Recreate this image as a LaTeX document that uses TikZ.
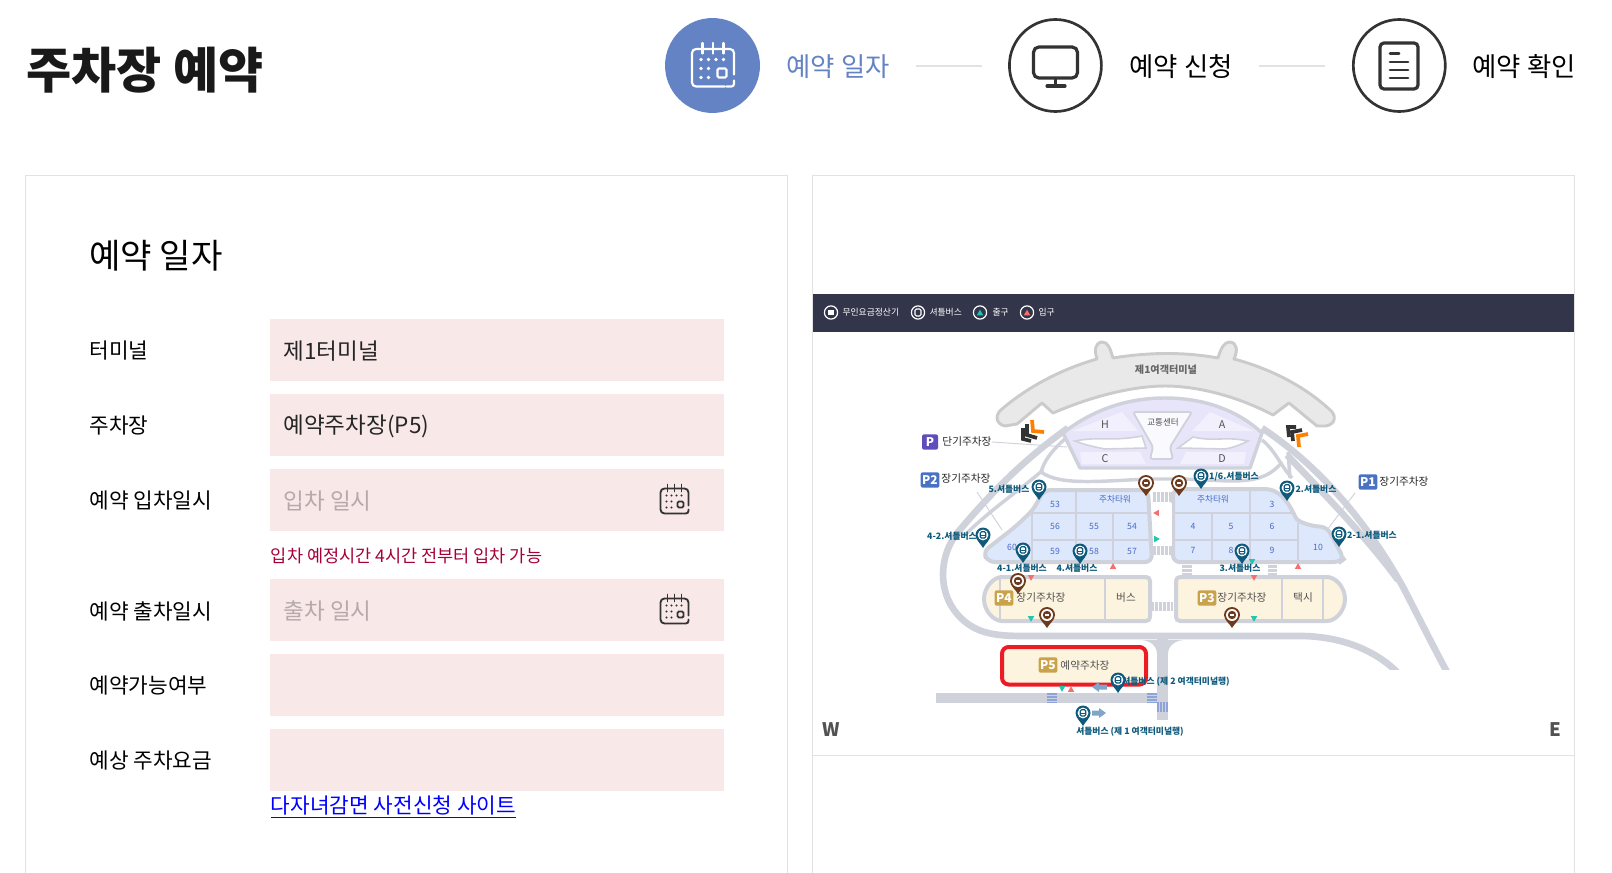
\documentclass[tikz,border=0pt]{standalone}
\usepackage{fontspec}
\setmainfont{Noto Sans CJK KR}
\definecolor{stepblue}{HTML}{6383C4}
\definecolor{inkdark}{HTML}{333333}
\definecolor{panelline}{HTML}{E2E2E2}
\definecolor{fieldpink}{HTML}{F8E8E8}
\definecolor{ghostgray}{HTML}{B5A9A9}
\definecolor{hintred}{HTML}{A5003A}
\definecolor{bandnavy}{HTML}{33364A}
\definecolor{roadgray}{HTML}{CFD2DA}
\definecolor{termgray}{HTML}{E9E9E9}
\definecolor{termline}{HTML}{CBCBCB}
\definecolor{violetzone}{HTML}{E8E5FB}
\definecolor{violetlight}{HTML}{F2F0FD}
\definecolor{blockblue}{HTML}{DDE8FD}
\definecolor{blockcream}{HTML}{FDF4DF}
\definecolor{celltext}{HTML}{4A6AC6}
\definecolor{gold}{HTML}{C9A24A}
\definecolor{pinblue}{HTML}{0F5A7C}
\definecolor{pinbrown}{HTML}{6E3A1E}
\definecolor{exitteal}{HTML}{22C5AE}
\definecolor{enterred}{HTML}{F66F6F}
\definecolor{arrowblue}{HTML}{7FA5C9}
\definecolor{stripeblue}{HTML}{8EA3D8}
\definecolor{badgeviolet}{HTML}{5E4DBB}
\definecolor{badgeblue}{HTML}{4A72C4}
\definecolor{mapred}{HTML}{ED1C24}
\tikzset{every picture/.style={line width=0.75pt},
  steptext/.style={anchor=west,inner sep=0pt,font=\fontsize{19.8}{24}\selectfont},
  stepring/.style={circle,draw=inkdark,line width=2pt,minimum size=69pt,inner sep=0pt},
  formlabel/.style={anchor=west,inner sep=0pt,text=black,font=\fontsize{16}{20}\selectfont},
  fieldbox/.style={anchor=north west,fill=fieldpink,minimum width=340.6pt,minimum height=46.2pt,inner sep=0pt},
  fieldtext/.style={anchor=west,inner sep=0pt,font=\fontsize{16.9}{20}\selectfont},
  bandtext/.style={anchor=west,inner sep=0pt,text=white,font=\fontsize{6.6}{8}\selectfont},
  celllabel/.style={inner sep=0pt,text=celltext,font=\fontsize{6.5}{8}\selectfont},
  graylabel/.style={inner sep=0pt,text=inkdark!85,font=\fontsize{8}{10}\selectfont},
  buslabel/.style={inner sep=0pt,text=pinblue,font=\fontsize{6.6}{8}\bfseries\selectfont},
  badge/.style={inner sep=0pt,rounded corners=1.5pt,text=white,font=\fontsize{9}{10}\bfseries\selectfont,minimum height=11.5pt,minimum width=14pt},
  road/.style={draw=roadgray,line width=5pt},
  thinroad/.style={draw=roadgray,line width=2.6pt},
  blockline/.style={draw=roadgray,line width=3pt},
  cellline/.style={draw=roadgray,line width=2.2pt},
  leader/.style={draw=roadgray,line width=0.7pt},
  stripes/.style={draw=roadgray,dash pattern=on 2pt off 1pt},
  bluestripes/.style={draw=stripeblue,dash pattern=on 1.3pt off 1pt},
  calicon/.pic={
    \draw [pic actions,line cap=round,rounded corners=3] (14,-6) -- (14,11) -- (-14,11) -- (-14,-14) -- (8,-14);
    \draw [pic actions,line cap=round,rounded corners=2] (9,-14) -- (14,-14) -- (14,-10);
    \draw [pic actions,line cap=round] (-7,15) -- (-7,8) (0,15) -- (0,8) (7,15) -- (7,8);
    \draw [pic actions,rounded corners=1] (3,-2) rectangle (9,-8);
    \fill [pic actions] (-8,4) circle [radius=1.2] (-3,4) circle [radius=1.2] (2,4) circle [radius=1.2] (7,4) circle [radius=1.2]
      (-8,-2) circle [radius=1.2] (-3,-2) circle [radius=1.2] (-8,-8) circle [radius=1.2] (-3,-8) circle [radius=1.2];
  },
  pinbus/.pic={
    \fill [pinblue] (0,-13) .. controls (-2,-9) and (-7.5,-5) .. (-7.5,0) arc [start angle=180,end angle=0,radius=7.5] .. controls (7.5,-5) and (2,-9) .. (0,-13) -- cycle;
    \fill [white] (0,0) circle [radius=5.4];
    \draw [pinblue,line width=0.9pt,rounded corners=1] (-2.8,3.2) rectangle (2.8,-3);
    \draw [pinblue,line width=0.8pt] (-2.8,-0.6) -- (2.8,-0.6);
  },
  pinfare/.pic={
    \fill [pinbrown] (0,-13) .. controls (-2,-9) and (-8,-5) .. (-8,0) arc [start angle=180,end angle=0,radius=8] .. controls (8,-5) and (2,-9) .. (0,-13) -- cycle;
    \fill [white] (0,0) circle [radius=6];
    \fill [pinbrown] (0,0) circle [radius=4.2];
    \fill [white] (-2.4,-0.8) rectangle (2.4,0.8);
  },
  trimark/.pic={
    \fill [pic actions] (-3.2,2.8) -- (3.2,2.8) -- (0,-2.8) -- cycle;
  },
  bandring/.pic={
    \draw [white,line width=0.9pt] (0,0) circle [radius=6.6];
  }
}
\begin{document}
\begin{tikzpicture}[x=0.75pt,y=0.75pt,yscale=-1,xscale=1]
\useasboundingbox (0,0) rectangle (1612,873);

% Page title
\node (title) [anchor=west,inner sep=0pt,text=black!90,font=\fontsize{36.8}{40}\bfseries\selectfont] at (26,70) {주차장 예약};

% Step circles
\node (stepdate) [circle,fill=stepblue,minimum size=71.2pt,inner sep=0pt] at (712.5,65.5) {};
\node (stepapply) [stepring] at (1055.4,65.5) {};
\node (stepcheck) [stepring] at (1399.3,65.5) {};
\pic [white,line width=1.6pt,scale=1.5] at (713,65.5) {calicon};
% Monitor icon
\draw [inkdark,line width=2.4pt,rounded corners=4] (1033.5,47) rectangle (1077.5,78);
\draw [inkdark,line width=2.4pt] (1055.5,78) -- (1055.5,85);
\draw [inkdark,line width=2.4pt,line cap=round] (1047,86) -- (1065,86);
% Document icon
\draw [inkdark,line width=2.4pt,rounded corners=3] (1380,43) rectangle (1418,89);
\draw [inkdark,line width=2.2pt,line cap=round] (1390,53.5) -- (1399,53.5) (1390,62) -- (1408,62) (1390,70) -- (1408,70) (1390,78) -- (1408,78);

% Step captions
\node (captiondate) [steptext,text=stepblue] at (786,67) {예약 일자};
\node (captionapply) [steptext,text=black] at (1129,67) {예약 신청};
\node (captioncheck) [steptext,text=black] at (1472,67) {예약 확인};
\coordinate (linedatea) at (916,66);
\coordinate (linedateb) at (982,66);
\coordinate (lineapplya) at (1259,66);
\coordinate (lineapplyb) at (1325,66);
\draw [draw=panelline,line width=1pt] (linedatea) -- (linedateb);
\draw [draw=panelline,line width=1pt] (lineapplya) -- (lineapplyb);

% Panels
\draw [draw=panelline,line width=0.75pt] (25.5,873) -- (25.5,176) -- (787.5,176) -- (787.5,873);
\draw [draw=panelline,line width=0.75pt] (812.5,873) -- (812.5,176) -- (1574,176) -- (1574,873);
\draw [draw=panelline,line width=0.75pt] (813,755.5) -- (1574,755.5);

% Form heading
\node (formhead) [anchor=west,inner sep=0pt,text=black,font=\fontsize{25.6}{30}\selectfont] at (89,256) {예약 일자};

% Form labels
\node (labelterminal) [formlabel] at (89,351) {터미널};
\node (labellot) [formlabel] at (89,426) {주차장};
\node (labelin) [formlabel] at (89,501) {예약 입차일시};
\node (labelout) [formlabel] at (89,611) {예약 출차일시};
\node (labelavail) [formlabel] at (89,686) {예약가능여부};
\node (labelfee) [formlabel] at (89,761) {예상 주차요금};

% Form fields
\node (fieldterminal) [fieldbox] at (269.8,318.8) {};
\node (fieldlot) [fieldbox] at (269.8,393.8) {};
\node (fieldin) [fieldbox] at (269.8,468.8) {};
\node (fieldout) [fieldbox] at (269.8,578.8) {};
\node (fieldavail) [fieldbox] at (269.8,653.8) {};
\node (fieldfee) [fieldbox] at (269.8,728.8) {};
\node (valueterminal) [fieldtext,text=black!85] at (283,351) {제1터미널};
\node (valuelot) [fieldtext,text=black!85] at (283,426) {예약주차장(P5)};
\node (valuein) [fieldtext,text=ghostgray] at (283,501) {입차 일시};
\node (valueout) [fieldtext,text=ghostgray] at (283,611) {출차 일시};
\pic [inkdark,line width=1.4pt] at (674.5,499.5) {calicon};
\pic [inkdark,line width=1.4pt] at (674.5,609.5) {calicon};
\node (hintin) [anchor=west,inner sep=0pt,text=hintred,font=\fontsize{13.15}{16}\selectfont] at (270.4,555.5) {입차 예정시간 4시간 전부터 입차 가능};
\node (sitelink) [anchor=west,inner sep=0pt,text=blue,font=\fontsize{16}{20}\selectfont] at (270.4,807) {\underline{다자녀감면 사전신청 사이트}};

% Map legend band
\fill [bandnavy] (813,294) rectangle (1574,332.5);
\pic at (831,312.5) {bandring};
\fill [white] (828,310) rectangle (834,315);
\node (legendfare) [bandtext] at (842,312) {무인요금정산기};
\pic at (918,312.5) {bandring};
\draw [white,line width=0.8pt,rounded corners=1] (915,309) rectangle (921,316);
\node (legendbus) [bandtext] at (929,312) {셔틀버스};
\pic at (980,312.5) {bandring};
\pic [exitteal,rotate=180] at (980,312.5) {trimark};
\node (legendexit) [bandtext] at (992,312) {출구};
\pic at (1027,312.5) {bandring};
\pic [enterred,rotate=180] at (1027,312.5) {trimark};
\node (legendenter) [bandtext] at (1038,312) {입구};

% Roads
\begin{scope}
\clip (813,333) rectangle (1574,669);
\draw [road] (1068,428) .. controls (1020,462) and (985,500) .. (958,532) .. controls (938,556) and (935,600) .. (968,624) .. controls (985,636) and (1005,636) .. (1030,636) -- (1300,636) .. controls (1340,636) and (1375,650) .. (1397,672);
\draw [road] (1262,428) .. controls (1310,460) and (1360,510) .. (1403,587) .. controls (1420,620) and (1435,650) .. (1447,672);
\draw [road] (1287,455) .. controls (1320,490) and (1365,535) .. (1398,580);
\draw [thinroad] (1043,470) .. controls (1020,490) and (990,510) .. (965,535);
\draw [thinroad] (1066,438) .. controls (1050,452) and (1044,462) .. (1041,472) .. controls (1060,486) and (1100,481) .. (1150,479) -- (1180,479) .. controls (1230,480) and (1262,488) .. (1282,462);
\draw [thinroad] (1262,440) .. controls (1275,450) and (1280,465) .. (1292,478);
\draw [thinroad] (1288,452) -- (1290,478);
\end{scope}
\draw [road,line width=8pt] (1162.5,638) -- (1162.5,720);
\fill [roadgray] (1140,640) .. controls (1150,640) and (1157,646) .. (1157,654) -- (1168,654) .. controls (1168,646) and (1175,640) .. (1185,640) -- cycle;
\fill [roadgray] (936,693) rectangle (1157,703);

% Terminal building
\draw [fill=termgray,draw=termline,line width=2.2pt,line join=round] (1005,426) .. controls (995,424) and (995,414) .. (1002,409) .. controls (1030,385) and (1065,368) .. (1097,359) .. controls (1094,350) and (1095,343) .. (1102,342) .. controls (1108,342) and (1110,348) .. (1113,358) .. controls (1150,352) and (1185,352) .. (1218,358) .. controls (1221,348) and (1224,342) .. (1230,342) .. controls (1237,343) and (1238,350) .. (1234,359) .. controls (1268,368) and (1303,385) .. (1329,409) .. controls (1337,415) and (1336,424) .. (1326,426) -- (1317,426) -- (1289,403) -- (1273,415) .. controls (1235,395) and (1195,386) .. (1165,386) .. controls (1135,386) and (1095,395) .. (1053,413) -- (1042,403) -- (1017,424) -- cycle;
\node (terminalname) [graylabel,font=\fontsize{7.6}{9}\bfseries\selectfont,text=inkdark!75] at (1166,370) {제1여객터미널};

% Concourse
\draw [fill=violetzone,draw=roadgray,line width=2.6pt,line join=round] (1063,433) .. controls (1095,408) and (1130,398) .. (1165,398) .. controls (1200,398) and (1235,408) .. (1262,433) -- (1250,468) -- (1080,468) -- cycle;
\fill [violetlight] (1072,431) -- (1122,412) -- (1138,431) -- cycle;
\fill [violetlight] (1192,431) -- (1210,412) -- (1254,431) -- cycle;
\fill [violetlight] (1080,452) -- (1140,452) -- (1146,464) -- (1082,464) -- cycle;
\fill [violetlight] (1186,452) -- (1246,452) -- (1244,464) -- (1180,464) -- cycle;
\draw [fill=white,draw=roadgray,line width=1.2pt] (1075,441) .. controls (1100,436) and (1110,442) .. (1142,436) -- (1146,448) -- (1105,449) .. controls (1095,447) and (1085,445) .. (1075,441) -- cycle;
\draw [fill=white,draw=roadgray,line width=1.2pt] (1248,441) .. controls (1225,436) and (1215,442) .. (1193,437) -- (1178,448) -- (1225,449) .. controls (1235,447) and (1240,445) .. (1248,441) -- cycle;
\draw [fill=white!60!violetlight,draw=roadgray,line width=1.4pt,rounded corners=2] (1133,412) -- (1192,412) -- (1170,447) -- (1173,459) -- (1150,459) -- (1153,447) -- cycle;
\node (gatehall) [graylabel,font=\fontsize{6.4}{8}\selectfont] at (1163,422) {교통센터};
\node (gateh) [graylabel] at (1105,425) {H};
\node (gatec) [graylabel] at (1105,459) {C};
\node (gatea) [graylabel] at (1222,425) {A};
\node (gated) [graylabel] at (1222,459) {D};

% Chevrons
\draw [black!80,line width=2.8pt,miter limit=4] (1023,428) -- (1023,439) -- (1031,441);
\draw [black!80,line width=2.8pt] (1027,424) -- (1027,435) -- (1037,438);
\draw [orange,line width=2.8pt] (1032,420) -- (1033,431) -- (1044,432);
\draw [black!80,line width=2.8pt] (1296,427) -- (1288,427) -- (1289,437);
\draw [black!80,line width=2.8pt] (1302,430) -- (1292,432) -- (1293,441);
\draw [orange,line width=2.8pt] (1308,434) -- (1298,436) -- (1299,447);

% Block P2 side
\draw [fill=blockblue,blockline,rounded corners=5] (1044,490) -- (1148,490) -- (1152,562) -- (988,562) -- (983,552) -- (1015,527) -- (1033,510) -- cycle;
\draw [cellline] (1076,490) -- (1076,562) (1113,513) -- (1113,562) (1032,513) -- (1032,562) (1032,513) -- (1150,513) (1032,540) -- (1150,540);
% Block P1 side
\draw [fill=blockblue,blockline,rounded corners=5] (1173,489) -- (1258,489) .. controls (1278,489) and (1286,500) .. (1293,512) .. controls (1298,522) and (1310,526) .. (1327,527) -- (1344,559) -- (1340,562) -- (1173,562) -- cycle;
\draw [cellline] (1250,489) -- (1250,562) (1212,513) -- (1212,562) (1298,523) -- (1298,562) (1173,513) -- (1292,513) (1173,540) -- (1298,540);

% Cell texts
\node (cell53) [celllabel] at (1055,504) {53};
\node (towerleft) [celllabel] at (1115,499) {주차타워};
\node (cell56) [celllabel] at (1055,526) {56};
\node (cell55) [celllabel] at (1094,526) {55};
\node (cell54) [celllabel] at (1132,526) {54};
\node (cell60) [celllabel] at (1012,547) {60};
\node (cell59) [celllabel] at (1055,551) {59};
\node (cell58) [celllabel] at (1094,551) {58};
\node (cell57) [celllabel] at (1132,551) {57};
\node (towerright) [celllabel] at (1213,499) {주차타워};
\node (cell3) [celllabel] at (1272,504) {3};
\node (cell4) [celllabel] at (1193,526) {4};
\node (cell5) [celllabel] at (1231,526) {5};
\node (cell6) [celllabel] at (1272,526) {6};
\node (cell7) [celllabel] at (1193,550) {7};
\node (cell8) [celllabel] at (1231,550) {8};
\node (cell9) [celllabel] at (1272,550) {9};
\node (cell10) [celllabel] at (1318,547) {10};

% Walkways
\fill [white] (1153,503) rectangle (1172,546);
\draw [stripes,line width=7pt] (1153,497) -- (1172,497);
\draw [stripes,line width=7pt] (1153,550.5) -- (1172,550.5);
\draw [stripes,line width=7pt] (1187,565) -- (1187,577);
\draw [stripes,line width=7pt] (1272.5,565) -- (1272.5,577);
\draw [stripes,line width=7pt] (1151,606.5) -- (1173,606.5);

% Block P4 and P3
\draw [fill=blockcream,blockline,rounded corners=3] (1150,577) -- (1006,577) arc [start angle=-90,end angle=-270,radius=22] -- (1150,621) -- cycle;
\draw [cellline] (1000,578) -- (1000,620) (1105,577) -- (1105,621);
\draw [fill=blockcream,blockline,rounded corners=3] (1176,577) -- (1323,577) arc [start angle=-90,end angle=90,radius=22] -- (1176,621) -- cycle;
\draw [cellline] (1282,577) -- (1282,621) (1323,577) -- (1323,621);
\node (badgep4) [badge,fill=gold] at (1004,598) {P4};
\node (namep4) [graylabel] at (1041,598) {장기주차장};
\node (namebus) [graylabel] at (1126,598) {버스};
\node (badgep3) [badge,fill=gold] at (1207,598) {P3};
\node (namep3) [graylabel] at (1242,598) {장기주차장};
\node (nametaxi) [graylabel] at (1303,598) {택시};

% Block P5
\draw [fill=blockcream,draw=mapred,line width=3pt,rounded corners=5] (1002,647) rectangle (1146,684.5);
\node (badgep5) [badge,fill=gold] at (1048,665) {P5};
\node (namep5) [graylabel] at (1085,666) {예약주차장};

% Road crossings
\draw [bluestripes,line width=7.5pt] (1052,693) -- (1052,703);
\draw [bluestripes,line width=7.5pt] (1151.5,693) -- (1151.5,703);
\draw [bluestripes,line width=8pt] (1157,707) -- (1168,707);

% Direction arrows
\fill [arrowblue] (1092,687) -- (1099,682) -- (1099,684.5) -- (1107,684.5) -- (1107,689.5) -- (1099,689.5) -- (1099,692) -- cycle;
\fill [arrowblue] (1106,713) -- (1099,708) -- (1099,710.5) -- (1092,710.5) -- (1092,715.5) -- (1099,715.5) -- (1099,718) -- cycle;

% Entry and exit marks
\pic [exitteal] at (1062,689) {trimark};
\pic [enterred,rotate=180] at (1071,689) {trimark};
\pic [enterred,rotate=180] at (1113,566) {trimark};
\pic [enterred] at (1031,578) {trimark};
\pic [exitteal] at (1031,619) {trimark};
\pic [exitteal] at (1252,562) {trimark};
\pic [enterred,rotate=180] at (1298,566) {trimark};
\pic [enterred] at (1254,578) {trimark};
\pic [exitteal] at (1254,619) {trimark};
\pic [enterred,rotate=-90] at (1156,513) {trimark};
\pic [exitteal,rotate=90] at (1157,539) {trimark};

% Pins
\pic at (1146,483) {pinfare};
\pic at (1179,483) {pinfare};
\pic at (1018,581) {pinfare};
\pic at (1047,615) {pinfare};
\pic at (1232,615) {pinfare};
\pic at (1039,487) {pinbus};
\pic at (1201,476) {pinbus};
\pic at (1287,488) {pinbus};
\pic at (1339,534) {pinbus};
\pic at (1242,551) {pinbus};
\pic at (983,535) {pinbus};
\pic at (1023,550) {pinbus};
\pic at (1080,551) {pinbus};
\pic at (1118,680) {pinbus};
\pic at (1083,713) {pinbus};

% Bus labels
\node (busfive) [buslabel] at (1009,489) {5.셔틀버스};
\node (busone) [buslabel] at (1234,477) {1/6.셔틀버스};
\node (bustwo) [buslabel] at (1316,489) {2.셔틀버스};
\node (bustwoone) [buslabel] at (1372,535) {2-1.셔틀버스};
\node (busfourtwo) [buslabel] at (952,536) {4-2.셔틀버스};
\node (busfourone) [buslabel] at (1022,568) {4-1.셔틀버스};
\node (busfour) [buslabel] at (1077,568) {4.셔틀버스};
\node (busthree) [buslabel] at (1240,568) {3.셔틀버스};
\node (bussecond) [buslabel] at (1176,682) {셔틀버스 (제 2 여객터미널행)};
\node (busfirst) [buslabel] at (1130,732) {셔틀버스 (제 1 여객터미널행)};

% Lot captions
\node (badgep) [badge,fill=badgeviolet,minimum width=12pt] at (930,442) {P};
\node (nameshort) [graylabel,text=black!85] at (967,442) {단기주차장};
\node (badgep2) [badge,fill=badgeblue] at (930,480) {P2};
\node (namep2) [graylabel,text=black!85] at (966,479) {장기주차장};
\node (badgep1) [badge,fill=badgeblue] at (1368,482) {P1};
\node (namep1) [graylabel,text=black!85] at (1404,482) {장기주차장};
\coordinate (leadshort) at (1067,447);
\coordinate (leadp2a) at (977,492);
\coordinate (leadp2b) at (1002,530);
\coordinate (leadp1a) at (1355,493);
\coordinate (leadp1b) at (1327,530);
\draw [leader] (nameshort.east) -- (leadshort);
\draw [leader] (leadp2a) -- (leadp2b);
\draw [leader] (leadp1a) -- (leadp1b);

% Map compass
\node (west) [inner sep=0pt,text=inkdark!85,font=\fontsize{14}{16}\bfseries\selectfont] at (831,730) {W};
\node (east) [inner sep=0pt,text=inkdark!85,font=\fontsize{14}{16}\bfseries\selectfont] at (1555,730) {E};

\end{tikzpicture}
\end{document}
